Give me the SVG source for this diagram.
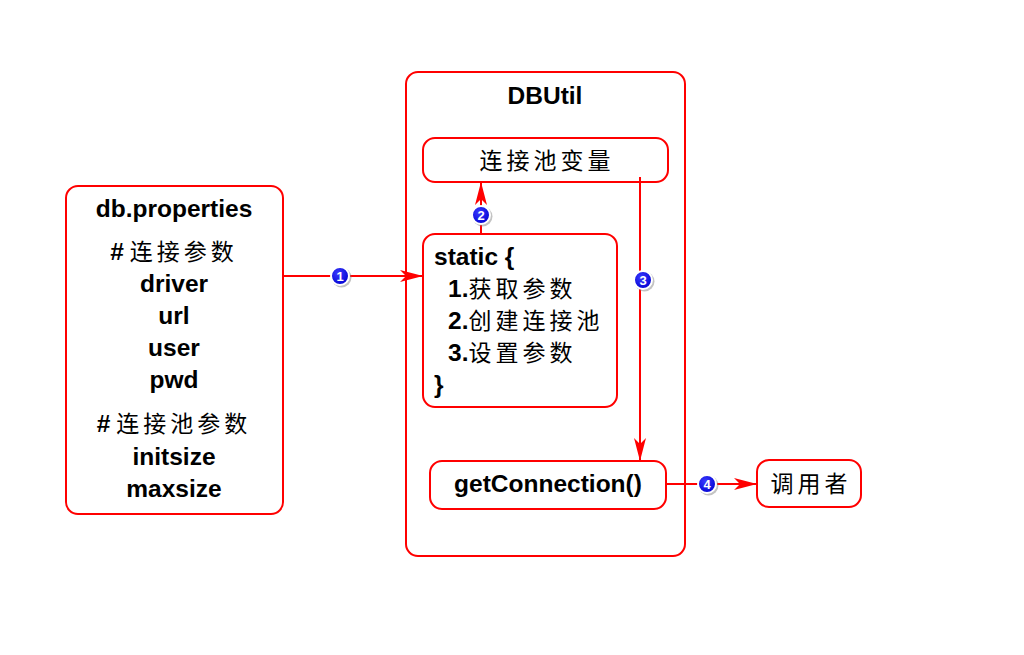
<svg xmlns="http://www.w3.org/2000/svg" width="1024" height="655" viewBox="0 0 1024 655">
<defs>
<marker id="ah" markerWidth="24" markerHeight="14" refX="23" refY="7" orient="auto" markerUnits="userSpaceOnUse">
<path d="M0,1 L23,7 L0,13 L6,7 Z" fill="#ff0000"/>
</marker>
<radialGradient id="bg" cx="0.4" cy="0.35" r="0.7">
<stop offset="0" stop-color="#3a3aff"/>
<stop offset="1" stop-color="#0000d0"/>
</radialGradient>
</defs>
<style>
.box{fill:#fff;stroke:#ff0000;stroke-width:2}
.t{font-family:"Liberation Sans",Arial,sans-serif;font-weight:bold;font-size:24.5px;fill:#000}
.c{font-family:"Noto Sans CJK SC","Liberation Sans",sans-serif;font-weight:normal;font-size:23px;letter-spacing:4px;fill:#000}
.ln{stroke:#ff0000;stroke-width:2;fill:none}
.bd{fill:url(#bg);stroke:#fff;stroke-width:2}
.bt{font-family:"Liberation Sans",Arial,sans-serif;font-weight:bold;font-size:13px;fill:#fff}
</style>
<rect width="1024" height="655" fill="#fff"/>
<g id="dbutil">
<rect class="box" x="406" y="72" width="279" height="484" rx="12"/>
<text class="t" x="545" y="104" text-anchor="middle">DBUtil</text>
</g>
<g id="props">
<rect class="box" x="66" y="186" width="217" height="328" rx="12"/>
<text class="t" x="174" y="217" text-anchor="middle">db.properties</text>
<text class="t" x="174" y="260" text-anchor="middle">#<tspan class="c" dx="6">连接参数</tspan></text>
<text class="t" x="174" y="292" text-anchor="middle">driver</text>
<text class="t" x="174" y="324" text-anchor="middle">url</text>
<text class="t" x="174" y="356" text-anchor="middle">user</text>
<text class="t" x="174" y="388" text-anchor="middle">pwd</text>
<text class="t" x="174" y="432" text-anchor="middle">#<tspan class="c" dx="6">连接池参数</tspan></text>
<text class="t" x="174" y="465" text-anchor="middle">initsize</text>
<text class="t" x="174" y="497" text-anchor="middle">maxsize</text>
</g>
<g id="poolvar">
<rect class="box" x="423" y="138" width="245" height="44" rx="12"/>
<text class="c" x="547" y="169" text-anchor="middle">连接池变量</text>
</g>
<g id="static">
<rect class="box" x="423" y="234" width="194" height="173" rx="12"/>
<text class="t" x="434" y="265">static {</text>
<text class="t" x="448" y="297">1.<tspan class="c">获取参数</tspan></text>
<text class="t" x="448" y="329">2.<tspan class="c">创建连接池</tspan></text>
<text class="t" x="448" y="361">3.<tspan class="c">设置参数</tspan></text>
<text class="t" x="434" y="393">}</text>
</g>
<g id="getconn">
<rect class="box" x="430" y="461" width="236" height="48" rx="12"/>
<text class="t" x="548" y="492" text-anchor="middle">getConnection()</text>
</g>
<g id="caller">
<rect class="box" x="757" y="460" width="104" height="47" rx="12"/>
<text class="c" x="811" y="492" text-anchor="middle">调用者</text>
</g>
<g id="connectors">
<line class="ln" x1="283" y1="276" x2="423" y2="276" marker-end="url(#ah)"/>
<line class="ln" x1="481" y1="234" x2="481" y2="182" marker-end="url(#ah)"/>
<line class="ln" x1="640" y1="177" x2="640" y2="461" marker-end="url(#ah)"/>
<line class="ln" x1="666" y1="484" x2="757" y2="484" marker-end="url(#ah)"/>
<g id="b1"><circle cx="341.5" cy="277.5" r="10" fill="#888" opacity="0.5"/><circle class="bd" cx="340" cy="276" r="9"/><text class="bt" x="340" y="280.5" text-anchor="middle">1</text></g>
<g id="b2"><circle cx="482.5" cy="216.5" r="10" fill="#888" opacity="0.5"/><circle class="bd" cx="481" cy="215" r="9"/><text class="bt" x="481" y="219.5" text-anchor="middle">2</text></g>
<g id="b3"><circle cx="644.5" cy="281.5" r="10" fill="#888" opacity="0.5"/><circle class="bd" cx="643" cy="280" r="9"/><text class="bt" x="643" y="284.5" text-anchor="middle">3</text></g>
<g id="b4"><circle cx="708.5" cy="485.5" r="10" fill="#888" opacity="0.5"/><circle class="bd" cx="707" cy="484" r="9"/><text class="bt" x="707" y="488.5" text-anchor="middle">4</text></g>
</g>
</svg>
